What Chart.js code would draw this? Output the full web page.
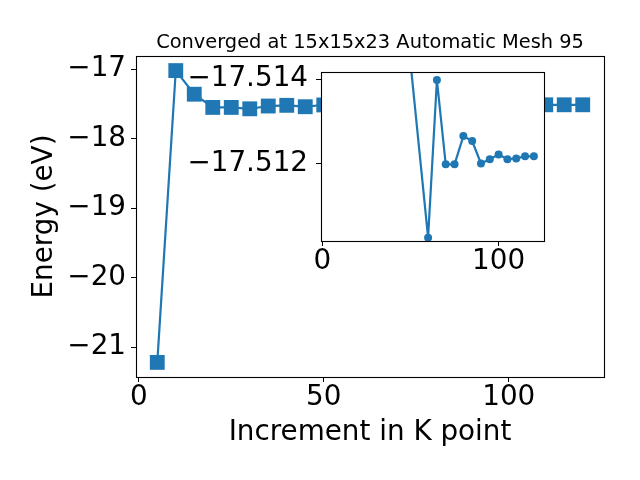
<!DOCTYPE html>
<html lang="en">
<head>
<meta charset="UTF-8">
<title>K-point convergence</title>
<script src="https://cdn.jsdelivr.net/npm/chart.js"></script>
<style>
  html, body { margin: 0; padding: 0; background: #fff; }
  .wrap { position: relative; width: 640px; height: 480px; }
  .wrap canvas { position: absolute; left: 0; top: 0; }
</style>
</head>
<body>
<div class="wrap">
  <canvas id="mainChart" width="640" height="480"></canvas>
  <canvas id="insetChart" width="640" height="480"></canvas>
</div>

<script>
// k-point increments and total energies (eV)
const kIncrements = [5, 10, 15, 20, 25, 30, 35, 40, 45, 50, 60, 65, 70, 75, 80, 85, 90, 95, 100, 105, 110, 115, 120];
const energies = [-21.22, -17.02, -17.36, -17.55, -17.55, -17.57, -17.53, -17.52, -17.54, -17.5144,
                  -17.51024, -17.51398, -17.51198, -17.51198, -17.51265, -17.51253, -17.51200,
                  -17.51210, -17.51221, -17.51210, -17.51212, -17.51217, -17.51217];
const xTicks = [0, 50, 100];
const yTicks = [-21, -20, -19, -18, -17];

// inset (zoom on the converged part)
const insetStart = 9;
const insetXTicks = [0, 100];
const insetYTicks = [-17.514, -17.512];

const titleText = "Converged at 15x15x23 Automatic Mesh 95";
const xLabel = "Increment in K point";
const yLabel = "Energy (eV)";

const FONT = "DejaVu Sans";
const BLUE = "#1f77b4";

function fmt(v, d) {
  const s = Math.abs(v).toFixed(d);
  return v < 0 ? "\u2212" + s : s;
}

const framePlugin = {
  id: "frame",
  beforeDraw(chart, args, opts) {
    if (!opts.fill) return;
    const a = chart.chartArea, ctx = chart.ctx;
    ctx.save();
    ctx.fillStyle = "#fff";
    ctx.fillRect(a.left, a.top, a.right - a.left, a.bottom - a.top);
    ctx.restore();
  },
  afterDatasetsDraw(chart) {
    const a = chart.chartArea, ctx = chart.ctx;
    ctx.save();
    ctx.strokeStyle = "#000";
    ctx.lineWidth = 1.1;
    ctx.strokeRect(Math.round(a.left) + 0.5, Math.round(a.top) + 0.5,
                   Math.round(a.right - a.left), Math.round(a.bottom - a.top));
    ctx.restore();
  }
};

const titlePlugin = {
  id: "topTitle",
  afterDraw(chart) {
    const a = chart.chartArea, ctx = chart.ctx;
    ctx.save();
    ctx.font = "19.4px '" + FONT + "'";
    ctx.fillStyle = "#000";
    ctx.textAlign = "center";
    ctx.textBaseline = "alphabetic";
    ctx.fillText(titleText, (a.left + a.right) / 2, 48);
    ctx.restore();
  }
};

function axisGrid() {
  return { display: true, drawOnChartArea: false, drawTicks: true, tickLength: 5, color: "#000", lineWidth: 1 };
}

// main chart
new Chart(document.getElementById("mainChart"), {
  type: "line",
  data: {
    datasets: [{
      data: kIncrements.map((x, i) => ({ x: x, y: energies[i] })),
      borderColor: BLUE,
      backgroundColor: BLUE,
      borderWidth: 2.2,
      pointStyle: "rect",
      pointRadius: 10.5,
      pointBorderWidth: 0,
      tension: 0
    }]
  },
  options: {
    responsive: false,
    animation: false,
    devicePixelRatio: 1,
    layout: { padding: { top: 56, right: 36, left: 0, bottom: 0 } },
    plugins: { legend: { display: false }, tooltip: { enabled: false }, frame: {} },
    scales: {
      x: {
        type: "linear",
        min: -0.75,
        max: 125.75,
        afterBuildTicks: s => { s.ticks = xTicks.map(v => ({ value: v })); },
        afterFit: s => { s.height = 103; },
        grid: axisGrid(),
        border: { display: false },
        ticks: { color: "#000", padding: 2, font: { family: FONT, size: 27.8, lineHeight: 1 }, callback: v => fmt(v, 0) },
        title: { display: true, text: xLabel, color: "#000", font: { family: FONT, size: 27.8, lineHeight: 1.2 }, padding: { top: 0, bottom: 31 } }
      },
      y: {
        type: "linear",
        min: -21.43,
        max: -16.81,
        afterBuildTicks: s => { s.ticks = yTicks.map(v => ({ value: v })); },
        afterFit: s => { s.width = 136; },
        grid: axisGrid(),
        border: { display: false },
        ticks: { color: "#000", padding: 5, font: { family: FONT, size: 27.8, lineHeight: 1 }, callback: v => fmt(v, 0) },
        title: { display: true, text: yLabel, color: "#000", font: { family: FONT, size: 27.8, lineHeight: 1.2 }, padding: { top: 28, bottom: 0 } }
      }
    }
  },
  plugins: [framePlugin, titlePlugin]
});

// inset chart
new Chart(document.getElementById("insetChart"), {
  type: "line",
  data: {
    datasets: [{
      data: kIncrements.slice(insetStart).map((x, i) => ({ x: x, y: energies[insetStart + i] })),
      borderColor: BLUE,
      backgroundColor: BLUE,
      borderWidth: 2.2,
      pointStyle: "circle",
      pointRadius: 4,
      pointBorderWidth: 0,
      clip: 0,
      tension: 0
    }]
  },
  options: {
    responsive: false,
    animation: false,
    devicePixelRatio: 1,
    layout: { padding: { top: 72, right: 96, left: 0, bottom: 0 } },
    plugins: { legend: { display: false }, tooltip: { enabled: false }, frame: { fill: true } },
    scales: {
      x: {
        type: "linear",
        min: -0.75,
        max: 125.75,
        afterBuildTicks: s => { s.ticks = insetXTicks.map(v => ({ value: v })); },
        afterFit: s => { s.height = 239; },
        grid: axisGrid(),
        border: { display: false },
        ticks: { color: "#000", padding: 2, font: { family: FONT, size: 27.8, lineHeight: 1 }, callback: v => fmt(v, 0) }
      },
      y: {
        type: "linear",
        reverse: true,
        min: -17.51417,
        max: -17.51016,
        afterBuildTicks: s => { s.ticks = insetYTicks.map(v => ({ value: v })); },
        afterFit: s => { s.width = 321; },
        grid: axisGrid(),
        border: { display: false },
        ticks: { color: "#000", padding: 8, font: { family: FONT, size: 27.8, lineHeight: 1 }, callback: v => fmt(v, 3) }
      }
    }
  },
  plugins: [framePlugin]
});
</script>
</body>
</html>
